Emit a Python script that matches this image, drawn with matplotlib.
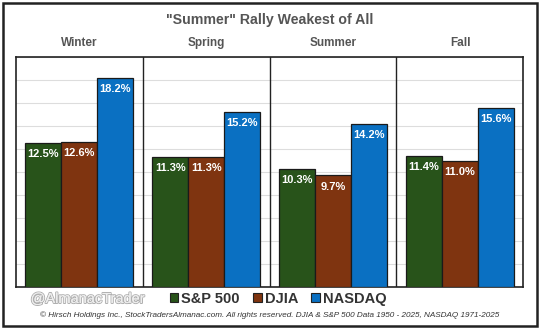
import matplotlib
matplotlib.use("Agg")
import matplotlib.pyplot as plt
import matplotlib.patches as mpatches
import matplotlib.patheffects as pe

plt.rcParams['font.family'] = ['Liberation Sans', 'DejaVu Sans']

seasons = ["Winter", "Spring", "Summer", "Fall"]
series = ["S&P 500", "DJIA", "NASDAQ"]
sp500 = [12.5, 11.3, 10.3, 11.4]
djia = [12.6, 11.3, 9.7, 11.0]
nasdaq = [18.2, 15.2, 14.2, 15.6]
colors = ["#28531a", "#7f3410", "#0a70c2"]

fig = plt.figure(figsize=(5.4, 3.29), dpi=100)
ax = fig.add_axes([16/540, 1-287/329, (523-16)/540, (287-57)/329])

w = 36/127
values = [sp500, djia, nasdaq]
for j, (vals, c) in enumerate(zip(values, colors)):
    xs = [i + 0.5 + (j - 1) * w for i in range(len(seasons))]
    bars = ax.bar(xs, vals, width=w, color=c, edgecolor="#1a1a1a", linewidth=0.9, zorder=3)
    for b, v in zip(bars, vals):
        ax.annotate(f"{v:.1f}%", (b.get_x() + b.get_width()/2, v), xytext=(0, -8),
                    textcoords="offset points", ha="center", va="center",
                    color="white", fontsize=8, fontweight="bold", zorder=4)

ax.set_xlim(0, 4)
ax.set_ylim(0, 20)
ax.set_yticks(range(0, 21, 2))
ax.grid(axis="y", color="#dddddd", linewidth=0.8, zorder=0)
ax.set_xticks([])
ax.tick_params(left=False, labelleft=False)
for s in ax.spines.values():
    s.set_color("#222222")
    s.set_linewidth(1.2)
for x in [1, 2, 3]:
    ax.axvline(x, color="#222222", linewidth=1.0, zorder=5)

fig.text(0.5, 1 - 20/329, "\"Summer\" Rally Weakest of All", ha="center", va="center",
         fontsize=10.2, fontweight="bold", color="#555555")
for i, s in enumerate(seasons):
    xf = (16 + (i + 0.5) * 127) / 540
    fig.text(xf, 1 - 43/329, s, ha="center", va="center", fontsize=8.5,
             fontweight="bold", color="#555555")

# outer border
fig.add_artist(mpatches.Rectangle((3/540, 3/329), 534/540, 323/329, transform=fig.transFigure,
                                  fill=False, edgecolor="#222222", linewidth=1.8))

handles = [mpatches.Patch(facecolor=c, edgecolor="#222222", linewidth=0.8, label=l)
           for c, l in zip(colors, series)]
leg = fig.legend(handles=handles, loc="center", bbox_to_anchor=(278/540, 1 - 299/329), ncol=3,
                 frameon=False, handlelength=0.6, handleheight=0.6, handletextpad=0.2,
                 columnspacing=0.9, prop={"size": 10.5, "weight": "bold"})
for t in leg.get_texts():
    t.set_color("#333333")

wm = fig.text(88/540, 1 - 299/329, "@AlmanacTrader", ha="center", va="center", fontsize=10.5,
              color="#eeeeee")
wm.set_path_effects([pe.withStroke(linewidth=1.4, foreground="#b0b0b0"), pe.Normal()])

fig.text(0.5, 1 - 315/329,
         "© Hirsch Holdings Inc., StockTradersAlmanac.com. All rights reserved. DJIA & S&P 500 Data 1950 - 2025, NASDAQ 1971-2025",
         ha="center", va="center", fontsize=5.85, style="italic", color="#333333")

fig.savefig("out.png", dpi=100)
